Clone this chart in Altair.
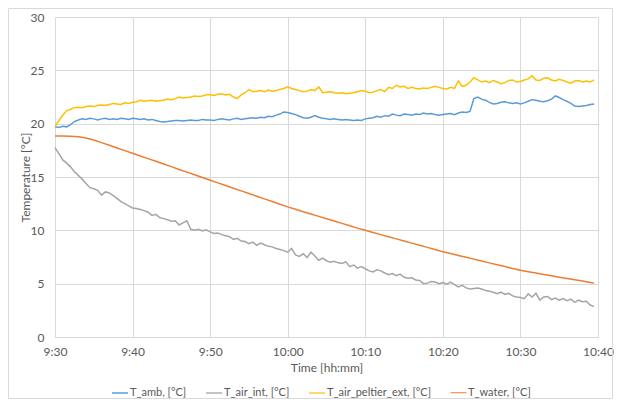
import altair as alt
import pandas as pd

# time offsets in minutes after 9:30 (30 s sampling for the noisy probes)
t_noisy = [i * 0.5 for i in range(140)]

t_amb = [
    19.7, 19.65, 19.75, 19.7, 19.9, 20.2, 20.35, 20.45, 20.4, 20.5,
    20.45, 20.35, 20.45, 20.5, 20.4, 20.45, 20.4, 20.5, 20.45, 20.4,
    20.5, 20.45, 20.4, 20.45, 20.35, 20.4, 20.3, 20.2, 20.15, 20.2,
    20.25, 20.3, 20.3, 20.25, 20.3, 20.35, 20.3, 20.3, 20.4, 20.35,
    20.35, 20.3, 20.4, 20.45, 20.4, 20.35, 20.45, 20.5, 20.4, 20.45,
    20.5, 20.55, 20.5, 20.6, 20.55, 20.7, 20.65, 20.8, 20.9, 21.1,
    21.05, 20.95, 20.85, 20.7, 20.55, 20.5, 20.6, 20.75, 20.6, 20.5,
    20.45, 20.4, 20.45, 20.4, 20.35, 20.4, 20.35, 20.3, 20.35, 20.3,
    20.45, 20.5, 20.55, 20.7, 20.6, 20.75, 20.7, 20.9, 20.8, 20.75,
    20.9, 20.85, 20.8, 20.9, 20.85, 21.0, 20.9, 20.95, 20.85, 20.8,
    20.85, 20.9, 20.95, 20.85, 21.0, 21.1, 21.05, 21.15, 22.35, 22.5,
    22.3, 22.2, 22.0, 21.85, 21.9, 22.0, 22.05, 21.95, 21.9, 21.95,
    21.85, 21.95, 22.1, 22.25, 22.2, 22.1, 22.05, 22.15, 22.3, 22.6,
    22.45, 22.25, 22.1, 21.9, 21.65, 21.6, 21.65, 21.7, 21.8, 21.85,
]

t_air_int = [
    17.75, 17.2, 16.6, 16.3, 15.95, 15.5, 15.15, 14.8, 14.4, 14.0,
    13.9, 13.75, 13.3, 13.6, 13.5, 13.25, 13.0, 12.7, 12.5, 12.3,
    12.1, 12.05, 11.95, 11.85, 11.7, 11.4, 11.5, 11.2, 11.1, 11.0,
    10.85, 10.9, 10.5, 10.7, 10.9, 10.1, 10.0, 10.1, 9.95, 10.05,
    9.85, 9.7, 9.75, 9.6, 9.5, 9.4, 9.15, 9.25, 9.0, 8.95,
    8.75, 8.9, 8.6, 8.8, 8.65, 8.5, 8.45, 8.3, 8.2, 8.1,
    7.95, 8.3, 7.7, 7.55, 7.8, 7.45, 7.95, 7.6, 7.2, 7.4,
    7.15, 7.0, 7.1, 6.95, 6.9, 7.05, 6.6, 6.75, 6.45, 6.6,
    6.4, 6.2, 6.1, 6.3, 6.2, 6.0, 5.85, 5.95, 5.75, 5.9,
    5.6, 5.5, 5.55, 5.35, 5.3, 5.0, 5.05, 5.2, 5.15, 5.0,
    5.1, 4.95, 5.15, 4.9, 4.7, 4.85, 4.6, 4.5, 4.55, 4.6,
    4.5, 4.35, 4.3, 4.2, 4.05, 4.2, 4.0, 4.1, 3.85, 3.75,
    3.7, 3.6, 4.05, 3.75, 4.1, 3.45, 3.75, 3.8, 3.5, 3.65,
    3.45, 3.6, 3.4, 3.55, 3.25, 3.45, 3.3, 3.35, 3.0, 2.85,
]

t_air_peltier_ext = [
    19.7, 20.3, 20.8, 21.2, 21.35, 21.5, 21.55, 21.5, 21.6, 21.65,
    21.6, 21.7, 21.75, 21.7, 21.8, 21.9, 21.85, 21.8, 21.95, 21.9,
    22.0, 22.05, 22.2, 22.1, 22.15, 22.2, 22.1, 22.15, 22.2, 22.3,
    22.25, 22.35, 22.5, 22.4, 22.45, 22.5, 22.6, 22.55, 22.6, 22.7,
    22.7, 22.65, 22.75, 22.8, 22.7, 22.75, 22.5, 22.35, 22.7, 22.9,
    23.2, 23.0, 23.05, 23.1, 23.0, 23.15, 23.05, 23.1, 23.2, 23.3,
    23.45, 23.3, 23.2, 23.1, 23.0, 23.05, 23.2, 23.1, 23.45, 22.9,
    22.95, 23.0, 22.9, 22.85, 22.9, 22.8, 22.85, 22.9, 23.0, 23.1,
    23.05, 22.9, 22.95, 23.1, 23.2, 23.0, 23.4, 23.3, 23.6, 23.45,
    23.5, 23.3, 23.4, 23.3, 23.25, 23.35, 23.3, 23.4, 23.5, 23.4,
    23.3, 23.25, 23.4, 23.3, 24.0, 23.5, 23.6, 23.9, 24.3, 24.1,
    23.9, 24.0, 23.85, 24.05, 23.9, 23.75, 23.85, 24.05, 24.1, 23.9,
    23.95, 24.1, 24.2, 24.5, 24.1, 24.05, 24.25, 24.3, 24.1, 24.0,
    24.15, 24.05, 23.9, 23.8, 24.0, 24.05, 23.9, 24.0, 23.9, 24.1,
]

# water temperature, 1 min sampling
t_water_time = list(range(70)) + [69.5]
t_water = [
    18.85, 18.85, 18.83, 18.77, 18.65, 18.47, 18.22, 17.97, 17.72, 17.47,
    17.22, 16.97, 16.72, 16.47, 16.22, 15.97, 15.71, 15.46, 15.21, 14.95,
    14.70, 14.45, 14.20, 13.95, 13.70, 13.45, 13.20, 12.95, 12.70, 12.45,
    12.20, 11.97, 11.75, 11.53, 11.31, 11.09, 10.87, 10.65, 10.43, 10.21,
    10.00, 9.80, 9.60, 9.40, 9.20, 9.00, 8.80, 8.60, 8.40, 8.20,
    8.00, 7.82, 7.65, 7.47, 7.30, 7.12, 6.95, 6.77, 6.60, 6.42,
    6.25, 6.12, 5.99, 5.86, 5.74, 5.61, 5.49, 5.37, 5.25, 5.12,
    5.05,
]

series_names = ["T_amb, [°C]", "T_air_int, [°C]", "T_air_peltier_ext, [°C]", "T_water, [°C]"]
series_colors = ["#5B9BD5", "#A5A5A5", "#FFC000", "#ED7D31"]
x_ticks = [0, 10, 20, 30, 40, 50, 60, 70]
y_ticks = [0, 5, 10, 15, 20, 25, 30]

rows = []
for name, times, vals in [
    (series_names[0], t_noisy, t_amb),
    (series_names[1], t_noisy, t_air_int),
    (series_names[2], t_noisy, t_air_peltier_ext),
    (series_names[3], t_water_time, t_water),
]:
    for t, v in zip(times, vals):
        rows.append({"minute": t, "value": v, "series": name})
df = pd.DataFrame(rows)

FONT = "Lato"
TXT = "#595959"
GRID = "#D9D9D9"

label_expr = (
    "floor((datum.value + 570) / 60) + ':' + "
    "((datum.value + 570) % 60 < 10 ? '0' : '') + ((datum.value + 570) % 60)"
)

lines = alt.Chart(df).mark_line(strokeWidth=1.5).encode(
    x=alt.X(
        "minute:Q",
        scale=alt.Scale(domain=[0, 70], nice=False),
        axis=alt.Axis(
            values=x_ticks, labelExpr=label_expr, title="Time [hh:mm]",
            grid=True, gridColor=GRID, domainColor=GRID, ticks=False,
            labelPadding=9, titlePadding=5, labelFlush=False,
        ),
    ),
    y=alt.Y(
        "value:Q",
        scale=alt.Scale(domain=[0, 30], nice=False),
        axis=alt.Axis(
            values=y_ticks, title="Temperature [°C]", grid=True, gridColor=GRID,
            domain=False, ticks=False, labelPadding=11, titlePadding=-2,
            labelFlush=False,
        ),
    ),
    color=alt.Color(
        "series:N",
        scale=alt.Scale(domain=series_names, range=series_colors),
        sort=series_names,
        legend=alt.Legend(
            title=None, orient="none", direction="horizontal",
            legendX=56, legendY=367, symbolType="stroke", symbolSize=256,
            symbolStrokeWidth=1.5, labelOffset=1, columnPadding=16,
            labelFont=FONT, labelFontSize=11, labelColor=TXT, padding=0,
        ),
    ),
    strokeWidth=alt.StrokeWidth(
        "series:N",
        scale=alt.Scale(domain=series_names, range=[1.5, 1, 1.5, 1.5]),
        legend=None,
    ),
    order=alt.Order("minute:Q"),
)

border = alt.Chart(pd.DataFrame({"a": [0]})).mark_rect(
    fillOpacity=0, stroke=GRID, strokeWidth=1
).encode(
    x=alt.value(-46.5), x2=alt.value(557.5), y=alt.value(-8.5), y2=alt.value(381.5)
)

chart = alt.layer(border, lines).properties(
    width=543, height=320,
    autosize=alt.AutoSizeParams(type="none"),
    padding={"left": 47, "top": 9, "right": 16, "bottom": 62},
    background="white",
).configure_view(stroke=None).configure_axis(
    labelFont=FONT, labelFontSize=12, labelColor=TXT,
    titleFont=FONT, titleFontSize=12, titleColor=TXT, titleFontWeight="normal",
)

chart.save("out.html", embed_options={"renderer": "svg", "actions": False})
